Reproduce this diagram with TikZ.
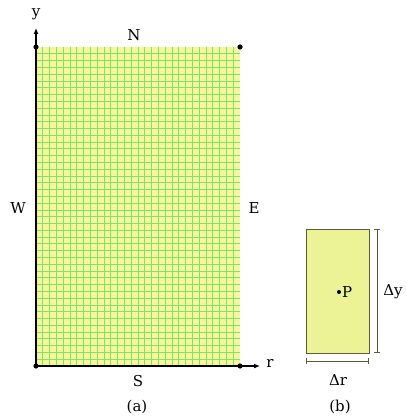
\documentclass[tikz,border=0pt]{standalone}
\usepackage{fontspec}
\setmainfont{DejaVu Serif}
\definecolor{GridYellow}{RGB}{244,247,156}
\definecolor{GridGreen}{RGB}{130,226,100}
\definecolor{CellYellow}{RGB}{236,242,150}
\definecolor{CellEdge}{RGB}{90,90,60}
\usetikzlibrary{arrows.meta,positioning}
\tikzset{lbl/.style={font=\fontsize{15}{18}\selectfont,inner sep=1pt}}

\begin{document}
\begin{tikzpicture}[x=1pt,y=-1pt]
\useasboundingbox (0,0) rectangle (406,419);
% control volume grid
\fill[GridYellow] (36,47) rectangle (240,366);
\foreach \i in {1,...,29} \draw[GridGreen,line width=0.7pt] ({36+\i*6.8},47) -- ({36+\i*6.8},366);
\foreach \j in {1,...,46} \draw[GridGreen,line width=0.7pt] (36,{47+\j*6.787}) -- (240,{47+\j*6.787});
% axes
\coordinate (O) at (36,366);
\coordinate (ytip) at (36,28);
\coordinate (rtip) at (260,366);
\draw[line width=1.5pt,-{Latex[length=6pt,width=5pt]}] (O) -- (ytip);
\draw[line width=1.5pt,-{Latex[length=6pt,width=5pt]}] (O) -- (rtip);
\node[lbl] (ylab) at (36,14) {y};
\node[lbl] (rlab) at (270,363) {r};
% corner dots
\foreach \p in {(36,47),(240,47),(36,366),(240,366)} \fill \p circle (2.6pt);
% boundary labels
\node[lbl] (N) at (134,35) {N};
\node[lbl] (S) at (138,381) {S};
\node[lbl] (W) at (18,208) {W};
\node[lbl] (E) at (254,208) {E};
\node[lbl] (capa) at (137,407) {(a)};
% single cell
\draw[CellEdge,fill=CellYellow,line width=1pt] (306,229) rectangle (369,353);
\fill (339,292) circle (2pt);
\node[lbl,anchor=west] (P) at (341,292) {P};
% dimension lines
\coordinate (dyt) at (377,229);
\coordinate (dyb) at (377,353);
\coordinate (drl) at (306,361);
\coordinate (drr) at (369,361);
\draw[CellEdge,line width=1pt,{Bar[width=6pt]}-{Bar[width=6pt]}] (dyt) -- (dyb);
\draw[CellEdge,line width=1pt,{Bar[width=6pt]}-{Bar[width=6pt]}] (drl) -- (drr);
\node[lbl] (dy) at (393,292) {Δy};
\node[lbl] (dr) at (338,380) {Δr};
\node[lbl] (capb) at (340,407) {(b)};
\end{tikzpicture}
\end{document}
